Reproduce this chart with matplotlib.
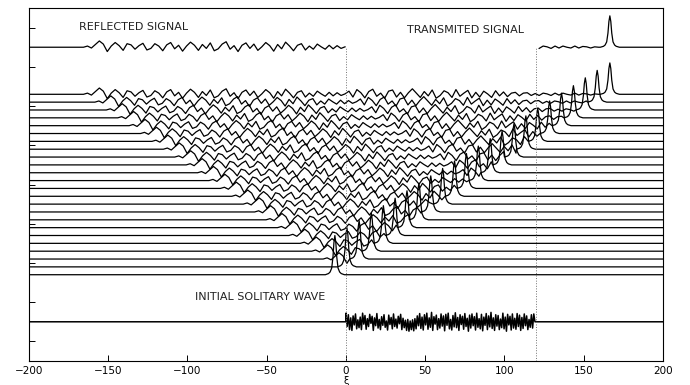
import numpy as np
import matplotlib.pyplot as plt

## trace baselines (bottom to top) of the stacked time slices
levels = [1.7, 1.9, 2.1, 2.3, 2.5, 2.7, 2.9, 3.1, 3.3, 3.5, 3.7, 3.9,
          4.1, 4.3, 4.5, 4.7, 4.9, 5.1, 5.3, 5.5, 5.7, 5.9, 6.1, 6.3]

## soliton peak position / height for every slice
soliton_pos = [-7, 0.6, 8.3, 16, 23.6, 31, 38.5, 46, 53.5, 61, 68.5, 76,
               83.5, 91, 98.5, 106, 113.5, 121, 128.5, 136, 143.5, 151, 158.5, 166.5]
soliton_amp = [1.0, 1.0, 0.98, 0.97, 0.96, 0.95, 0.94, 0.93, 0.92, 0.91, 0.9, 0.89,
               0.88, 0.87, 0.86, 0.85, 0.85, 0.84, 0.83, 0.83, 0.82, 0.82, 0.81, 0.8]

## left front of the radiated ripples
front_pos = [0, -7.2, -14.4, -21.6, -28.8, -36, -43.2, -50.4, -57.6, -64.8, -72, -79.2,
             -86.4, -93.6, -100.8, -108, -115.2, -122.4, -129.6, -136.8, -144, -151.2,
             -158.4, -165.6]

## ripple behind the front, step 2.5
ripple_dx = 2.5
ripple = [0.00, 0.03, -0.02, 0.07, 0.16, 0.08, -0.11, 0.03, 0.12, 0.04,
          -0.08, 0.09, 0.06, -0.05, 0.04, 0.10, -0.07, -0.03, 0.09, 0.03,
          -0.09, 0.06, 0.12, -0.04, 0.05, -0.10, 0.03, 0.13, 0.05, -0.08,
          0.07, -0.03, 0.11, -0.09, -0.04, 0.08, 0.14, -0.05, 0.04, -0.11,
          0.05, 0.11, -0.03, 0.08, -0.08, 0.01, 0.12, 0.04, -0.10, 0.07,
          -0.04, 0.13, 0.03, -0.09, 0.05, 0.09, -0.07, 0.03, -0.05, 0.08,
          0.01, -0.05, 0.05, -0.04, 0.04, -0.03, 0.01, 0.08, -0.07, 0.12,
          0.04, -0.09, 0.07, 0.13, -0.05, 0.03, -0.10, 0.08, 0.11, -0.07,
          0.05, -0.09, 0.04, 0.14, 0.03, -0.08, 0.07, -0.04, 0.11, -0.10,
          -0.03, 0.09, 0.04, -0.08, 0.12, -0.05, 0.03, 0.10, -0.09, 0.05,
          -0.07, 0.08, 0.01, -0.08, 0.09, -0.04, 0.06, -0.06, 0.03, 0.05,
          -0.04, 0.03, 0.04, -0.03, 0.02, -0.03, 0.03, 0.01, -0.03, 0.03,
          -0.02, 0.03, 0.00, -0.02, 0.03, -0.02, 0.02, 0.01, -0.02, 0.01, 0.00]

## soliton profile
peak_dx = [-6, -4, -3, -2, -1.2, -0.6, 0, 0.6, 1.2, 2, 3, 4, 6]
peak_shape = [0.0, 0.03, 0.07, 0.17, 0.45, 0.82, 1.0, 0.82, 0.45, 0.17, 0.07, 0.03, 0.0]

## initial wave (noisy part between 0 and 120), step 0.75
noise_dx = 0.75
noise = [0.22, -0.12, 0.18, -0.20, 0.10, -0.22, 0.15, -0.08, 0.20, -0.18, 0.05, -0.15, 0.12, -0.20, 0.22, -0.06,
         0.16, -0.19, 0.08, -0.12, 0.19, -0.04, 0.14, -0.22, 0.10, -0.10, 0.21, -0.16, 0.06, -0.20, 0.13, -0.09,
         0.18, -0.14, 0.02, -0.21, 0.17, -0.07, 0.11, -0.18, 0.20, -0.12, 0.07, -0.16, 0.14, -0.05, 0.19, -0.20,
         0.09, -0.15, 0.04, -0.22, 0.06, -0.24, 0.02, -0.20, 0.05, -0.23, 0.08, -0.18, 0.15, -0.10, 0.21, -0.17,
         0.12, -0.21, 0.18, -0.08, 0.22, -0.19, 0.10, -0.14, 0.24, -0.22, 0.13, -0.06, 0.17, -0.20, 0.08, -0.16,
         0.20, -0.11, 0.15, -0.23, 0.19, -0.09, 0.22, -0.18, 0.06, -0.21, 0.16, -0.13, 0.23, -0.15, 0.11, -0.22,
         0.18, -0.07, 0.14, -0.19, 0.21, -0.12, 0.09, -0.24, 0.17, -0.16, 0.20, -0.10, 0.13, -0.21, 0.22, -0.14,
         0.08, -0.18, 0.19, -0.23, 0.12, -0.09, 0.21, -0.20, 0.15, -0.13, 0.24, -0.17, 0.10, -0.22, 0.18, -0.11,
         0.16, -0.20, 0.07, -0.15, 0.22, -0.18, 0.12, -0.24, 0.19, -0.08, 0.14, -0.21, 0.20, -0.16, 0.09, -0.19,
         0.21, -0.12, 0.17, -0.22, 0.11, -0.17, 0.20, -0.10, 0.15, -0.20, 0.06, -0.14, 0.18, -0.16, 0.20, 0.00,
         0.0]

signal_level = 7.5
initial_level = 0.5
window = [0, 120]
xlim = (-200, 200)


def build_trace(k):
    xs, ys = [xlim[0]], [0.0]
    for j, v in enumerate(ripple):
        x = front_pos[k] + j * ripple_dx
        if x >= soliton_pos[k] + peak_dx[0]:
            break
        xs.append(x)
        ys.append(v)
    for d, s in zip(peak_dx, peak_shape):
        xs.append(soliton_pos[k] + d)
        ys.append(soliton_amp[k] * s)
    xs.append(xlim[1])
    ys.append(0.0)
    return np.array(xs), np.array(ys)


fig = plt.figure(figsize=(6.9, 3.85), dpi=100)
ax = fig.add_axes([0.042, 0.0623, 0.9188, 0.9169])

lw = 0.9
for k, lev in enumerate(levels):
    x, y = build_trace(k)
    ax.plot(x, y + lev, color='black', lw=lw)

# reflected / transmitted signal = last slice with the window cut out
x, y = build_trace(len(levels) - 1)
left = x <= window[0]
right = x >= window[1]
ax.plot(x[left], y[left] + signal_level, color='black', lw=lw)
ax.plot(x[right], y[right] + signal_level, color='black', lw=lw)

# initial wave: flat outside the window, noisy inside
nx = np.arange(len(noise)) * noise_dx + window[0]
ix = np.concatenate([[xlim[0], window[0]], nx, [window[1], xlim[1]]])
iy = np.concatenate([[0.0, 0.0], noise, [0.0, 0.0]])
ax.plot(ix, iy + initial_level, color='black', lw=1.1)

ax.vlines(window, -0.5, signal_level, colors='0.45', linestyles=':', lw=0.7)

txt = dict(fontsize=8, color='#222222', family='DejaVu Sans', va='center')
ax.text(-168.5, 8.02, 'REFLECTED SIGNAL', **txt)
ax.text(38.3, 7.94, 'TRANSMITED SIGNAL', **txt)
ax.text(-95.3, 1.12, 'INITIAL SOLITARY WAVE', **txt)

ax.set_xlim(*xlim)
ax.set_ylim(-0.5, 8.5)
ax.set_xticks(range(-200, 201, 50))
ax.set_yticks(range(0, 9))
ax.set_yticklabels([])
ax.tick_params(direction='in', length=4, width=0.7, labelsize=7.5, top=False, right=False)
ax.set_xlabel('ξ', fontsize=7, labelpad=0)
for s in ax.spines.values():
    s.set_linewidth(0.8)

fig.savefig('out.png', dpi=100)
